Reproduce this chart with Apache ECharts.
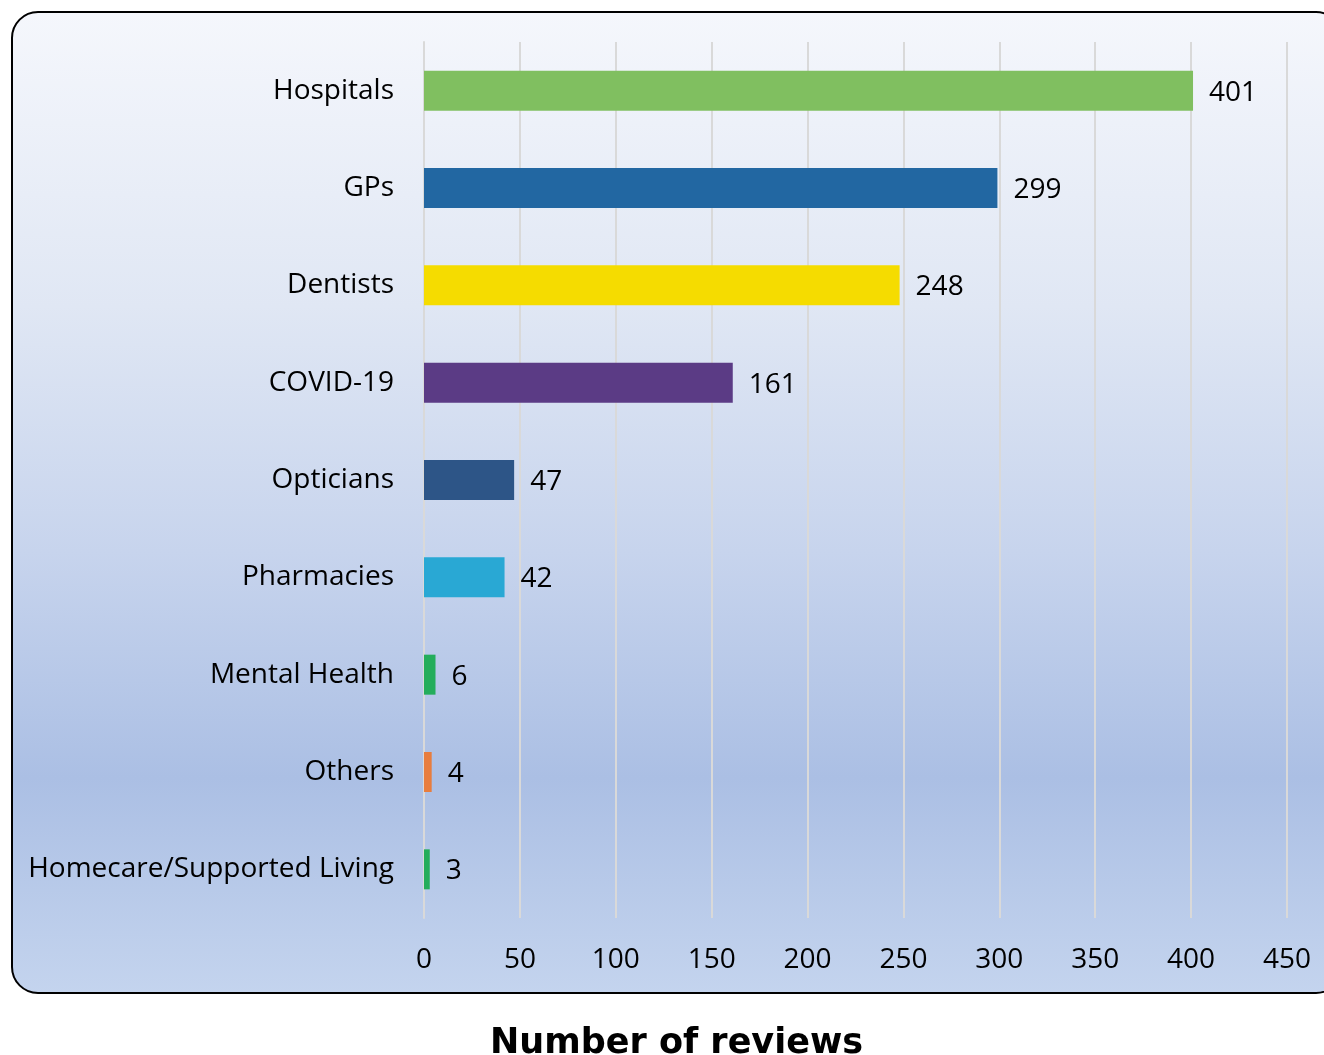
<!DOCTYPE html>
<html>
<head>
<meta charset="utf-8">
<script src="https://cdn.jsdelivr.net/npm/echarts@6/dist/echarts.min.js"></script>
<style>
html,body{margin:0;padding:0;background:#fff;}
#chart{width:1324px;height:1055px;}
</style>
</head>
<body>
<div id="chart"></div>
<script>
const categories = ['Hospitals','GPs','Dentists','COVID-19','Opticians','Pharmacies','Mental Health','Others','Homecare/Supported Living'];
const reviewCounts = [401, 299, 248, 161, 47, 42, 6, 4, 3];
const barColors = ['#80bf60','#2267a2','#f5dc00','#5b3b85','#2d5587','#29a8d4','#24ad5b','#e87d3e','#24ad5b'];
const xTicks = {min: 0, max: 450, interval: 50};
const axisTitle = 'Number of reviews';

const chart = echarts.init(document.getElementById('chart'), null, {renderer: 'canvas'});
const font = '"Open Sans", "Noto Sans", sans-serif';
chart.setOption({
  animation: false,
  graphic: [{
    type: 'rect', z: -10, silent: true,
    shape: {x: 12, y: 12, width: 1330, height: 981, r: 26},
    style: {
      fill: new echarts.graphic.LinearGradient(0, 0, 0, 1, [
        {offset: 0, color: '#f5f7fc'},
        {offset: 0.3, color: '#e0e7f4'},
        {offset: 0.55, color: '#c7d4ed'},
        {offset: 0.78, color: '#abbfe4'},
        {offset: 1, color: '#c4d4ee'}
      ]),
      stroke: '#000', lineWidth: 2
    }
  }],
  title: {
    text: axisTitle, left: 485, top: 1021,
    textStyle: {fontFamily: '"DejaVu Sans", sans-serif', fontWeight: 'bold', fontSize: 35, color: '#000'}
  },
  grid: {left: 424, right: 37, top: 42, bottom: 137, containLabel: false},
  xAxis: {
    type: 'value', min: xTicks.min, max: xTicks.max, interval: xTicks.interval,
    axisLine: {show: false}, axisTick: {show: false},
    splitLine: {show: true, lineStyle: {color: '#d9d9d9', width: 2}},
    axisLabel: {fontFamily: font, fontSize: 28, color: '#000', margin: 28}
  },
  yAxis: {
    type: 'category', data: categories, inverse: true,
    axisLine: {show: true, lineStyle: {color: '#d9d9d9', width: 2}},
    axisTick: {show: false},
    axisLabel: {fontFamily: font, fontSize: 28, color: '#000', margin: 30}
  },
  series: [{
    type: 'bar',
    data: reviewCounts.map((v, i) => ({value: v, itemStyle: {color: barColors[i]}})),
    barWidth: 40,
    label: {show: true, position: 'right', distance: 16, offset: [0, 2], fontFamily: font, fontSize: 28, color: '#000'}
  }]
});
</script>
</body>
</html>
